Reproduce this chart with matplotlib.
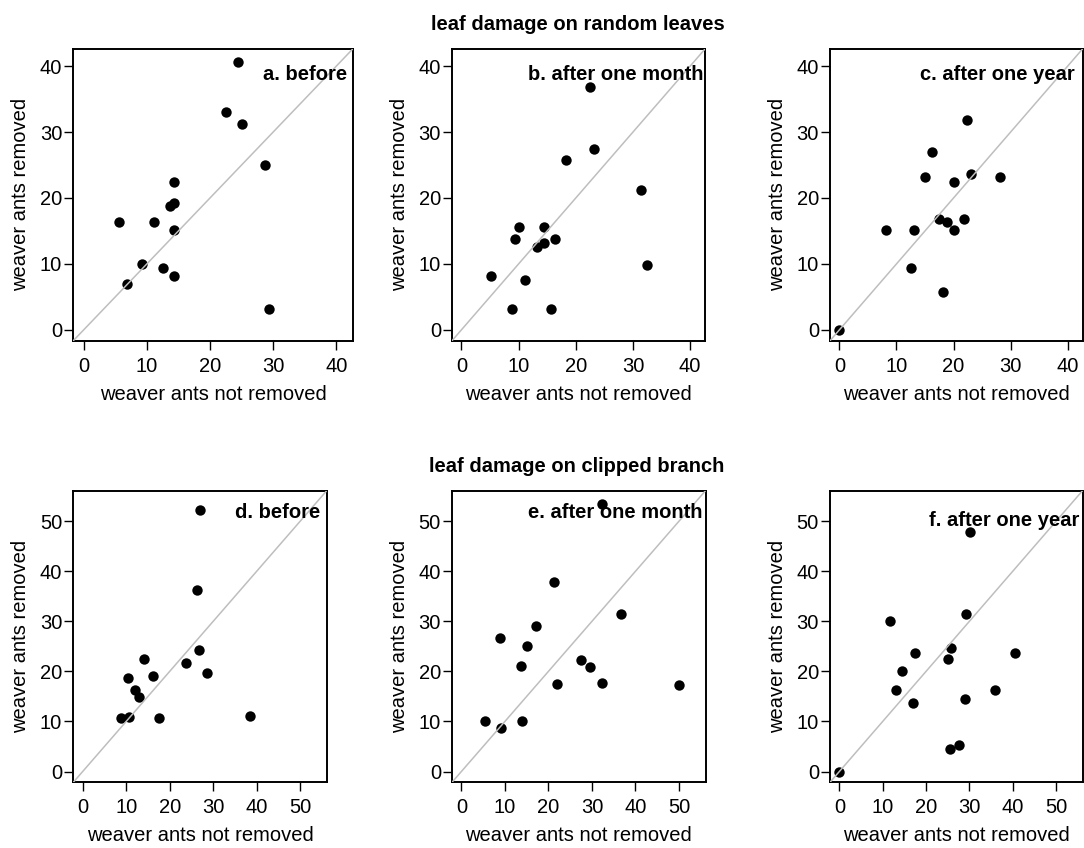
import matplotlib

matplotlib.use("Agg")
import matplotlib.pyplot as plt  # noqa: E402

plt.rcParams["font.family"] = ["Liberation Sans", "DejaVu Sans"]

# top row: leaf damage on random leaves
a_not_removed = [24.4, 22.5, 25.0, 28.7, 14.3, 14.3, 13.7, 5.6, 11.2, 14.3, 9.3, 12.5, 14.3, 6.8, 29.4]
a_removed = [40.6, 33.1, 31.2, 25.0, 22.5, 19.3, 18.8, 16.3, 16.3, 15.1, 10.0, 9.4, 8.1, 6.9, 3.2]
b_not_removed = [22.5, 23.2, 18.3, 31.4, 10.1, 14.4, 9.4, 16.3, 13.2, 14.5, 32.5, 5.1, 11.2, 8.9, 15.7]
b_removed = [36.8, 27.4, 25.7, 21.2, 15.6, 15.6, 13.8, 13.8, 12.5, 13.1, 9.9, 8.2, 7.5, 3.2, 3.2]
c_not_removed = [22.4, 16.3, 15.0, 23.1, 28.2, 20.1, 17.5, 18.8, 21.9, 8.1, 13.1, 20.1, 12.6, 18.1, 0.0]
c_removed = [31.9, 26.9, 23.2, 23.7, 23.2, 22.5, 16.8, 16.3, 16.8, 15.1, 15.1, 15.1, 9.4, 5.7, 0.0]

# bottom row: leaf damage on clipped branch
d_not_removed = [27.0, 26.3, 26.8, 23.8, 28.6, 14.1, 16.2, 10.4, 12.0, 12.9, 8.8, 10.6, 17.5, 38.4]
d_removed = [52.3, 36.2, 24.3, 21.7, 19.6, 22.5, 19.1, 18.7, 16.3, 14.8, 10.7, 10.9, 10.7, 11.0]
e_not_removed = [32.3, 21.2, 36.7, 17.1, 8.8, 15.0, 13.7, 27.4, 29.6, 21.9, 32.4, 50.1, 5.4, 14.0, 9.0]
e_removed = [53.5, 37.8, 31.4, 29.0, 26.7, 25.0, 21.1, 22.3, 20.8, 17.5, 17.7, 17.3, 10.0, 10.0, 8.7]
f_not_removed = [30.1, 29.3, 11.7, 25.8, 25.1, 17.4, 40.5, 14.5, 13.0, 35.8, 16.9, 29.1, 27.6, 25.5, 0.0]
f_removed = [47.9, 31.4, 30.1, 24.6, 22.5, 23.7, 23.7, 20.1, 16.3, 16.3, 13.6, 14.5, 5.3, 4.5, 0.0]

panel_labels = ["a. before", "b. after one month", "c. after one year",
                "d. before", "e. after one month", "f. after one year"]
row_titles = ["leaf damage on random leaves", "leaf damage on clipped branch"]
top_ticks = [0, 10, 20, 30, 40]
bottom_ticks = [0, 10, 20, 30, 40, 50]

W, H = 1084, 848
# axes boxes in pixels: left, top, right, bottom
BOXES = [
    (73.3, 49.0, 352.7, 340.7), (452.0, 49.0, 705.0, 340.7), (830.0, 49.0, 1082.5, 340.7),
    (73.3, 490.7, 326.7, 782.3), (452.0, 490.7, 705.5, 782.3), (830.0, 490.7, 1082.5, 782.3),
]
# label offsets from top-right corner, pixels (right, down)
LABEL_OFFSETS = [(6, 25), (2, 25), (8, 25), (6, 22), (3, 22), (3, 30)]
FS = 14.5

panels = [
    (a_not_removed, a_removed), (b_not_removed, b_removed), (c_not_removed, c_removed),
    (d_not_removed, d_removed), (e_not_removed, e_removed), (f_not_removed, f_removed),
]

fig = plt.figure(figsize=(W / 100, H / 100), dpi=100)

for i, ((xs, ys), box, label, offset) in enumerate(zip(panels, BOXES, panel_labels, LABEL_OFFSETS)):
    left, top, right, bottom = box
    ax = fig.add_axes([left / W, 1 - bottom / H, (right - left) / W, (bottom - top) / H])
    ticks = top_ticks if i < 3 else bottom_ticks
    lim = (-1.65, 42.6) if i < 3 else (-2.15, 56.1)
    ax.scatter(xs, ys, s=56, color="black", linewidths=0, zorder=2)
    ax.axline((0, 0), slope=1, color="#bebebe", lw=1.1, zorder=3)
    ax.set_xlim(lim)
    ax.set_ylim(lim)
    ax.set_xticks(ticks)
    ax.set_yticks(ticks)
    ax.tick_params(direction="out", length=6.5, width=1.0, labelsize=FS, color="black")
    ax.tick_params(axis="x", pad=5)
    ax.tick_params(axis="y", pad=1.5)
    for spine in ax.spines.values():
        spine.set_linewidth(1.4)
    w_px, h_px = right - left, bottom - top
    ax.set_xlabel("weaver ants not removed", fontsize=FS)
    ax.set_ylabel("weaver ants removed", fontsize=FS)
    ax.xaxis.set_label_coords(0.5, -44 / h_px)
    ax.yaxis.set_label_coords(-43 / w_px, 0.5)
    ax.annotate(label, xy=(1, 1), xycoords="axes fraction",
                xytext=(-offset[0] * 0.72, -offset[1] * 0.72), textcoords="offset points",
                ha="right", va="center", fontsize=FS, fontweight="bold", zorder=4)

fig.text(578 / W, 1 - 24 / H, row_titles[0], ha="center", va="center", fontsize=FS, fontweight="bold")
fig.text(577 / W, 1 - 467 / H, row_titles[1], ha="center", va="center", fontsize=FS, fontweight="bold")

fig.savefig("out.png", dpi=100)
